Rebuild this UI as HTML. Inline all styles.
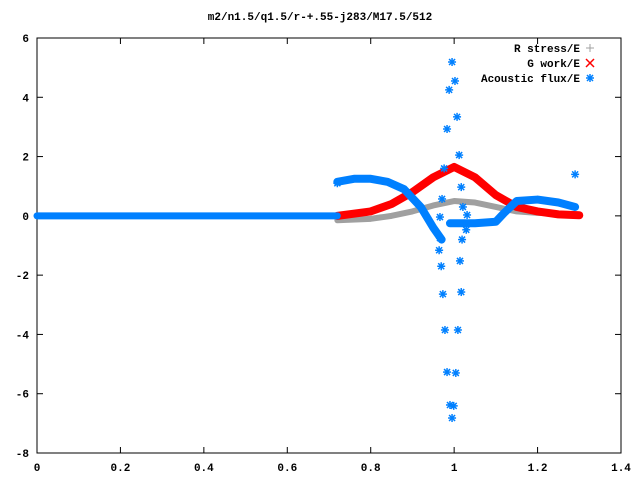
<!DOCTYPE html>
<html><head><meta charset="utf-8"><style>
body{margin:0;background:#fff}
svg text{font-family:"Liberation Mono",monospace;font-size:11px;font-weight:bold}
</style></head><body>
<svg width="640" height="480" xmlns="http://www.w3.org/2000/svg">
<rect width="640" height="480" fill="#fff"/>
<text x="320" y="20" text-anchor="middle">m2/n1.5/q1.5/r-+.55-j283/M17.5/512</text>
<g id="axes"></g>
<g id="series"></g>
<g>
<text x="580" y="52" text-anchor="end">R stress/E</text>
<text x="580" y="67" text-anchor="end">G work/E</text>
<text x="580" y="82" text-anchor="end">Acoustic flux/E</text>
<g stroke="#a0a0a0" stroke-width="1"><line x1="586" y1="48" x2="594" y2="48"/><line x1="590" y1="44" x2="590" y2="52"/></g>
<g stroke="#ff0000" stroke-width="1.5"><line x1="586" y1="59" x2="594" y2="67"/><line x1="586" y1="67" x2="594" y2="59"/></g>
<g stroke="#0080ff" stroke-width="1.5"><line x1="586" y1="78" x2="594" y2="78"/><line x1="590" y1="74" x2="590" y2="82"/><line x1="587" y1="75" x2="593" y2="81"/><line x1="587" y1="81" x2="593" y2="75"/></g>
</g>
</svg>
<script>
const xTicks=[0,0.2,0.4,0.6,0.8,1,1.2,1.4];
const xTickLabels=["0","0.2","0.4","0.6","0.8","1","1.2","1.4"];
const yTicks=[-8,-6,-4,-2,0,2,4,6];
const yTickLabels=["-8","-6","-4","-2","0","2","4","6"];
const grayX=[0.72,0.8,0.85,0.9,0.95,1.0,1.05,1.1,1.15,1.2,1.3];
const grayY=[-0.15,-0.1,0,0.15,0.35,0.5,0.45,0.3,0.15,0.1,0.05];
const redX=[0.72,0.8,0.85,0.9,0.95,1.0,1.05,1.1,1.15,1.2,1.25,1.3];
const redY=[0,0.15,0.4,0.8,1.3,1.65,1.3,0.7,0.3,0.15,0.05,0.02];
const flatX=[0,0.72];
const flatY=[0,0];
const blueAX=[0.72,0.76,0.8,0.84,0.88,0.92,0.95,0.97];
const blueAY=[1.15,1.25,1.25,1.15,0.9,0.3,-0.4,-0.8];
const blueBX=[0.99,1.05,1.1,1.12,1.15,1.2,1.25,1.29];
const blueBY=[-0.25,-0.25,-0.2,0.1,0.5,0.55,0.45,0.3];
const scatX=[0.995,1.002,0.988,1.007,0.983,1.012,0.976,1.017,0.971,1.021,0.966,0.966,0.964,0.969,0.973,0.978,1.009,0.983,1.004,0.990,0.999,0.995,1.014,1.019,1.017,1.029,1.031,1.29,0.72];
const scatY=[5.19,4.55,4.25,3.34,2.93,2.05,1.6,0.97,0.57,0.3,-0.04,-0.75,-1.16,-1.7,-2.64,-3.85,-3.85,-5.27,-5.3,-6.38,-6.41,-6.82,-1.52,-0.8,-2.57,-0.47,0.03,1.4,1.1];
const X0=37,X1=621,Y0=453,Y1=38;
const sx=v=>X0+(v-0)/1.4*(X1-X0);
const sy=v=>Y0-(v+8)/14*(Y0-Y1);
const NS="http://www.w3.org/2000/svg";
const ax=document.getElementById('axes'),se=document.getElementById('series');
function mk(p,tag,at){const e=document.createElementNS(NS,tag);for(const k in at)e.setAttribute(k,at[k]);p.appendChild(e);return e;}
const fr=mk(ax,'rect',{x:X0,y:Y1,width:X1-X0,height:Y0-Y1,fill:'none',stroke:'#000'});


xTicks.forEach((t,i)=>{const x=sx(t);
mk(ax,'line',{x1:x,y1:Y0,x2:x,y2:Y0-6,stroke:'#000'});mk(ax,'line',{x1:x,y1:Y1,x2:x,y2:Y1+6,stroke:'#000'});
const tx=mk(ax,'text',{x:x,y:Y0+18,'text-anchor':'middle'});tx.textContent=xTickLabels[i];

});
yTicks.forEach((t,i)=>{const y=sy(t);
mk(ax,'line',{x1:X0,y1:y,x2:X0+6,y2:y,stroke:'#000'});mk(ax,'line',{x1:X1,y1:y,x2:X1-6,y2:y,stroke:'#000'});
const tx=mk(ax,'text',{x:X0-8,y:y+4,'text-anchor':'end'});tx.textContent=yTickLabels[i];

});
function line(xs,ys,col,w,name){const p=mk(se,'polyline',{points:xs.map((x,i)=>sx(x)+','+sy(ys[i])).join(' '),fill:'none',stroke:col,'stroke-width':w,'stroke-linejoin':'round','stroke-linecap':'round'});

}
line(grayX,grayY,'#a0a0a0',6,'r-stress-series');
line(redX,redY,'#ff0000',8,'g-work-series');
line(flatX,flatY,'#0080ff',7,'acoustic-flux-flat');
line(blueAX,blueAY,'#0080ff',8,'acoustic-flux-left');
line(blueBX,blueBY,'#0080ff',8,'acoustic-flux-right');
scatX.forEach((x,i)=>{const cx=sx(x),cy=sy(scatY[i]);
const g=mk(se,'g',{stroke:'#0080ff','stroke-width':1.5});


mk(g,'line',{x1:cx-4,y1:cy,x2:cx+4,y2:cy});mk(g,'line',{x1:cx,y1:cy-4,x2:cx,y2:cy+4});
mk(g,'line',{x1:cx-3,y1:cy-3,x2:cx+3,y2:cy+3});mk(g,'line',{x1:cx-3,y1:cy+3,x2:cx+3,y2:cy-3});});
</script>
</body></html>
